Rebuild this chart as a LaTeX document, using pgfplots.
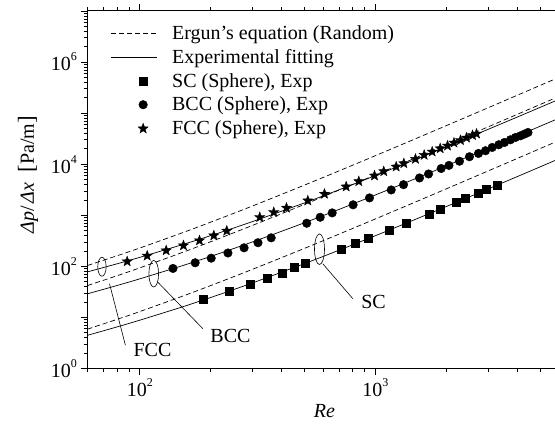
\documentclass[border=0pt]{standalone}
\usepackage{fontspec}
\setmainfont{Liberation Serif}
\usepackage{pgfplots}
\pgfplotsset{compat=1.18}
\usetikzlibrary{plotmarks}

\pgfdeclareplotmark{fstar}{%
  \pgfpathmoveto{\pgfpointpolar{90}{\pgfplotmarksize}}%
  \pgfpathlineto{\pgfpointpolar{126}{0.42*\pgfplotmarksize}}%
  \pgfpathlineto{\pgfpointpolar{162}{\pgfplotmarksize}}%
  \pgfpathlineto{\pgfpointpolar{198}{0.42*\pgfplotmarksize}}%
  \pgfpathlineto{\pgfpointpolar{234}{\pgfplotmarksize}}%
  \pgfpathlineto{\pgfpointpolar{270}{0.42*\pgfplotmarksize}}%
  \pgfpathlineto{\pgfpointpolar{306}{\pgfplotmarksize}}%
  \pgfpathlineto{\pgfpointpolar{342}{0.42*\pgfplotmarksize}}%
  \pgfpathlineto{\pgfpointpolar{18}{\pgfplotmarksize}}%
  \pgfpathlineto{\pgfpointpolar{54}{0.42*\pgfplotmarksize}}%
  \pgfpathclose
  \pgfusepathqfillstroke
}

\newcommand{\tp}[1]{10\raisebox{0.5em}{\fontsize{12}{12}\selectfont #1}}

\begin{document}
\begin{tikzpicture}[font=\fontsize{20}{24}\selectfont]
\begin{axis}[
  scale only axis, width=467.5pt, height=357.5pt,
  xmode=log, ymode=log,
  xmin=60, xmax=5776, ymin=1, ymax=1e7,
  axis x line=box, axis y line=left,
  axis line style={-, line width=1pt},
  xtick={100,1000}, xticklabels={\tp{2},\tp{3}},
  minor xtick={60,70,80,90,200,300,400,500,600,700,800,900,2000,3000,4000,5000},
  ytick={1,10,100,1000,10000,100000,1000000,10000000},
  yticklabels={\tp{0},{},\tp{2},{},\tp{4},{},\tp{6},{}},
  minor ytick={2,3,4,5,6,7,8,9,20,30,40,50,60,70,80,90,200,300,400,500,600,700,800,900,2000,3000,4000,5000,6000,7000,8000,9000,2e4,3e4,4e4,5e4,6e4,7e4,8e4,9e4,2e5,3e5,4e5,5e5,6e5,7e5,8e5,9e5,2e6,3e6,4e6,5e6,6e6,7e6,8e6,9e6},
  tick align=outside,
  major tick length=7pt, minor tick length=4pt,
  tick style={black, line width=0.7pt},
  xlabel={\textit{Re}},
  ylabel={\textit{Δp}/\hspace{3pt}\textit{Δx}\hspace{10pt}{\fontsize{23}{23}\selectfont[}Pa/m{\fontsize{23}{23}\selectfont]}},
  xlabel style={at={(axis description cs:0.507,-0.119)}, anchor=center},
  ylabel style={at={(axis description cs:-0.127,0.542)}, anchor=center},
  legend style={draw=none, fill=none, at={(axis description cs:0.043,0.972)}, anchor=north west,
    font=\fontsize{20}{24}\selectfont, row sep=4.5pt},
  legend cell align=left,
]
\addlegendimage{legend image code/.code={\path[draw=none] (0pt,0pt) -- (59pt,0pt); \draw[black, line width=0.7pt, dash pattern=on 5pt off 3pt] (0pt,0pt) -- (46pt,0pt);}}
\addlegendentry{Ergun's equation (Random)}
\addlegendimage{legend image code/.code={\path[draw=none] (0pt,0pt) -- (59pt,0pt); \draw[black, line width=0.7pt] (0pt,0pt) -- (46pt,0pt);}}
\addlegendentry{Experimental fitting}
\addlegendimage{legend image code/.code={\path[draw=none] (0pt,0pt) -- (59pt,0pt); \draw[black] plot[only marks, mark=square*, mark size=4pt, mark options={fill=black}] coordinates {(32pt,0pt)};}}
\addlegendentry{SC (Sphere), Exp}
\addlegendimage{legend image code/.code={\path[draw=none] (0pt,0pt) -- (59pt,0pt); \draw[black] plot[only marks, mark=*, mark size=4.3pt, mark options={fill=black}] coordinates {(32pt,0pt)};}}
\addlegendentry{BCC (Sphere), Exp}
\addlegendimage{legend image code/.code={\path[draw=none] (0pt,0pt) -- (59pt,0pt); \draw[black] plot[only marks, mark=fstar, mark size=5.3pt, mark options={fill=black}] coordinates {(32pt,0pt)};}}
\addlegendentry{FCC (Sphere), Exp}

% Ergun (dashed)
\addplot[forget plot, black, line width=0.7pt, dash pattern=on 5pt off 3pt, smooth] coordinates {
(60,104.0) (80,160.8) (100,228.6) (150,446.4) (200,733.2) (300,1514) (500,3904) (700,7398) (1000,14710) (1500,32419) (2000,57030) (3000,126960) (4000,224500) (5000,349650) (6000,502410)};
\addplot[forget plot, black, line width=0.7pt, dash pattern=on 5pt off 3pt, smooth] coordinates {
(60,42.0) (80,65.35) (100,93.38) (150,183.9) (200,303.7) (300,630.9) (500,1636) (700,3109) (1000,6194) (1500,13675) (2000,24079) (3000,53653) (4000,94917) (5000,147872) (6000,212516)};
\addplot[forget plot, black, line width=0.7pt, dash pattern=on 5pt off 3pt, smooth] coordinates {
(60,5.898) (80,9.144) (100,13.03) (150,25.55) (200,42.06) (300,87.09) (500,225.2) (700,427.2) (1000,850.3) (1500,1875) (2000,3301) (3000,7351) (4000,13001) (5000,20252) (6000,29102)};
% Fitting (solid)
\addplot[forget plot, black, line width=0.7pt, smooth] coordinates {
(60,78) (80,112) (100,150) (150,262.5) (200,400) (300,750) (500,1750) (700,3150) (1000,6000) (1500,12750) (2000,22000) (3000,48000) (4000,84000) (5000,130000) (6000,186000)};
\addplot[forget plot, black, line width=0.7pt, smooth] coordinates {
(60,29.0) (80,42.1) (100,56.93) (150,101.5) (200,156.8) (300,299.7) (500,714.5) (700,1301) (1000,2503) (1500,5367) (2000,9305) (3000,20404) (4000,35802) (5000,55497) (6000,79490)};
\addplot[forget plot, black, line width=0.7pt, smooth] coordinates {
(60,4.47) (80,6.512) (100,8.83) (150,15.83) (200,24.56) (300,47.19) (500,113.2) (700,206.7) (1000,398.8) (1500,857) (2000,1488) (3000,3266) (4000,5735) (5000,8894) (6000,12743)};

% Experimental points
\addplot[forget plot, only marks, mark=square*, mark size=4pt, black, mark options={fill=black}] coordinates {
(186.7,22.4) (239.4,33.2) (294.1,45.1) (347.1,59.9) (400.8,73.7) (453.2,95.2) (504.7,116.5) (715.2,220.7) (822.4,283.9) (927.5,361.9) (1139,518.5) (1350,698) (1683,1065) (1887,1292) (2207,1800) (2409,2200) (2735,2700) (2949,3200) (3270,3900)};
\addplot[forget plot, only marks, mark=*, mark size=4.3pt, black, mark options={fill=black}] coordinates {
(138.3,91.0) (171.8,117.6) (200.9,144.6) (236.6,182.7) (277.0,230.8) (317.3,290.3) (361.0,361.9) (510.7,698) (582.6,914) (655.1,1114) (803.5,1604) (943.0,2187) (1166,3134) (1315,3978) (1537,5377) (1679,6438) (1900,8241) (2050,9475) (2272,11446) (2505,14013) (2735,16252) (2929,18353) (3127,21290) (3335,24040) (3526,26660) (3739,30100) (3926,33380) (4123,36030) (4287,38890) (4436,41800)};
\addplot[forget plot, only marks, mark=fstar, mark size=5.3pt, black, mark options={fill=black}] coordinates {
(88.4,124.6) (107.5,161.1) (129.4,204.4) (153.2,256) (179.2,320.5) (206.1,401.4) (233.9,495.8) (322.9,914) (370.2,1144) (419.2,1395) (516.2,1937) (607.6,2618) (751,3636) (849.6,4614) (990.3,5962) (1084,7235) (1224,8940) (1319,10366) (1478,12636) (1609,15122) (1740,17546) (1882,20352) (2021,22979) (2153,26302) (2294,29431) (2433,32937) (2580,36854) (2683,39420)};

% Annotations
\draw[line width=0.6pt] (axis cs:69.1,98.2) ellipse [x radius=4.2pt, y radius=9.5pt];
\draw[line width=0.6pt] (axis cs:74.4,45.7) -- (axis cs:86.9,2.85);
\node at (axis cs:113.2,2.28) {FCC};
\draw[line width=0.6pt] (axis cs:114.6,71.7) ellipse [x radius=4.85pt, y radius=13.3pt];
\draw[line width=0.6pt] (axis cs:119.2,49.1) -- (axis cs:185,6.04);
\node at (axis cs:242.5,4.27) {BCC};
\draw[line width=0.6pt] (axis cs:578.7,216.8) ellipse [x radius=5pt, y radius=15.3pt];
\draw[line width=0.6pt] (axis cs:597.6,112.4) -- (axis cs:801.2,23.3);
\node at (axis cs:980.6,19.7) {SC};
\end{axis}
\pgfresetboundingbox
\path[use as bounding box] (-87.5pt,-58.5pt) rectangle (467.5pt,368.5pt);
\end{tikzpicture}
\end{document}
